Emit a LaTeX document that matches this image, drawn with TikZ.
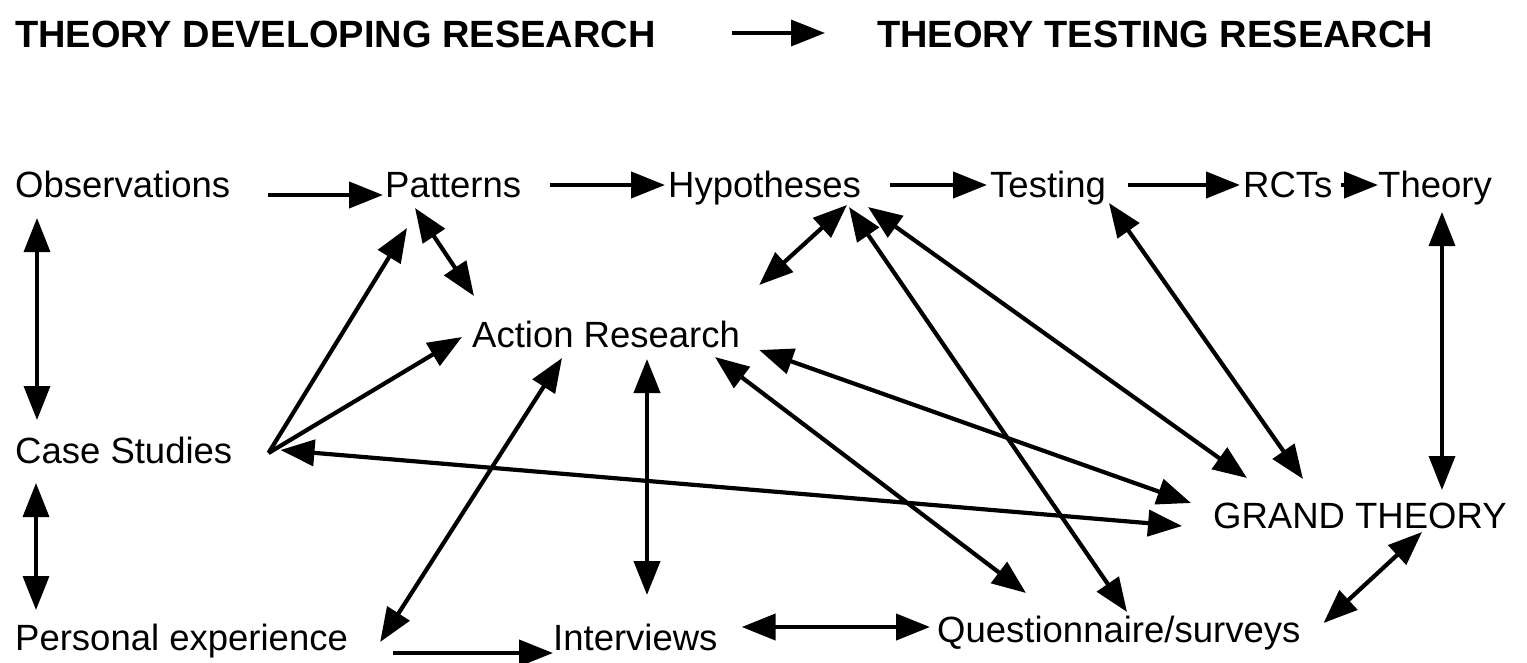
\documentclass[tikz,border=0pt]{standalone}
\usepackage{fontspec}
\setmainfont{Liberation Sans}
\usetikzlibrary{arrows.meta,calc}
\begin{document}
\begin{tikzpicture}[x=1pt,y=-1pt,
    >={Triangle[length=34pt,width=26pt]},
    lbl/.style={inner sep=0pt,anchor=base west,font=\fontsize{36.5}{40}\selectfont},
    hdr/.style={inner sep=0pt,anchor=base west,font=\fontsize{38}{42}\selectfont\bfseries},
    ln/.style={line width=4.2pt}]
  \useasboundingbox (0,0) rectangle (1527,662);
  % headings
  \node[hdr] (tdr) at (15,47) {THEORY DEVELOPING RESEARCH};
  \node[hdr] (ttr) at (877,47) {THEORY TESTING RESEARCH};
  \draw[ln,line width=3.5pt,->] ($(tdr.base east)+(76,-14)$) -- ($(ttr.base west)+(-52,-14)$);
  % top row
  \node[lbl] (obs) at (15,197) {Observations};
  \node[lbl] (pat) at (385,197) {Patterns};
  \node[lbl] (hyp) at (668,197) {Hypotheses};
  \node[lbl] (tst) at (990,197) {Testing};
  \node[lbl] (rct) at (1243,197) {RCTs};
  \node[lbl] (thy) at (1378,197) {Theory};
  % middle and bottom
  \node[lbl] (ar) at (472,347) {Action Research};
  \node[lbl] (cs) at (15,463) {Case Studies};
  \node[lbl] (gt) at (1213,528) {GRAND THEORY};
  \node[lbl] (pe) at (15,650) {Personal experience};
  \node[lbl] (iv) at (553,650) {Interviews};
  \node[lbl] (qs) at (937,642) {Questionnaire/surveys};
  % chain along the top
  \draw[ln,->] ($(obs.base east)+(38,-2)$) -- ($(pat.base west)+(-2,-2)$);
  \draw[ln,->] ($(pat.base east)+(29,-12)$) -- ($(hyp.base west)+(-3,-12)$);
  \draw[ln,->] ($(hyp.base east)+(29,-12)$) -- ($(tst.base west)+(-3,-12)$);
  \draw[ln,->] ($(tst.base east)+(22,-12)$) -- ($(rct.base west)+(-3,-12)$);
  \draw[ln,->] ($(rct.base east)+(8,-12)$) -- ($(thy.base west)+(0,-12)$);
  % left column
  \draw[ln,line width=3.5pt,<->] ($(obs.base west)+(22,21)$) -- ($(cs.base west)+(22,-43)$);
  \draw[ln,line width=3.5pt,<->] ($(cs.base west)+(21,20)$) -- ($(pe.base west)+(21,-40)$);
  \draw[ln,->] ($(cs.base east)+(36,-10)$) -- ($(pat.base west)+(22,31)$);
  \draw[ln,->] ($(cs.base east)+(36,-10)$) -- ($(ar.base west)+(-10,-10)$);
  \draw[ln,<->] ($(cs.base east)+(48,-13)$) -- ($(gt.base west)+(-31,-2)$);
  \draw[ln,->] ($(pe.base east)+(45,3)$) -- ($(iv.base west)+(0,3)$);
  % action research
  \draw[ln,<->] ($(pat.base west)+(30,11)$) -- ($(ar.base west)+(2,-51)$);
  \draw[ln,<->] ($(hyp.base west)+(179,8)$) -- ($(ar.base east)+(19,-62)$);
  \draw[ln,<->] ($(ar.base west)+(90,11)$) -- ($(pe.base east)+(32,-8)$);
  \draw[ln,<->] ($(ar.base west)+(175,12)$) -- ($(iv.base west)+(94,-55)$);
  \draw[ln,<->] ($(ar.base east)+(19,3)$) -- ($(gt.base west)+(-22,-25)$);
  \draw[ln,<->] ($(ar.base west)+(243,10)$) -- ($(qs.base west)+(89,-49)$);
  % testing side
  \draw[ln,<->] ($(hyp.base west)+(181,10)$) -- ($(qs.base west)+(190,-30)$);
  \draw[ln,<->] ($(hyp.base west)+(200,10)$) -- ($(gt.base west)+(34,-50)$);
  \draw[ln,<->] ($(tst.base west)+(119,6)$) -- ($(gt.base west)+(90,-49)$);
  \draw[ln,line width=3.5pt,<->] ($(thy.base west)+(64,15)$) -- ($(gt.base west)+(229,-38)$);
  \draw[ln,<->] ($(iv.base east)+(24,-23)$) -- ($(qs.base west)+(-7,-15)$);
  \draw[ln,<->] ($(gt.base west)+(209,4)$) -- ($(qs.base east)+(23,-19)$);
\end{tikzpicture}
\end{document}
